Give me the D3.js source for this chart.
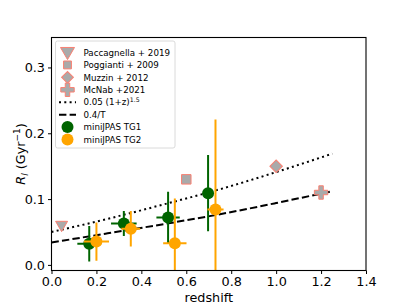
<!DOCTYPE html>
<html>
<head>
<meta charset="utf-8">
<script src="https://cdn.jsdelivr.net/npm/d3@7"></script>
<style>
  body { margin: 0; background: #fff; }
  text { font-family: "DejaVu Sans", sans-serif; }
</style>
</head>
<body>
<div id="chart-area"></div>
<script>
// literature points
const paccZ = [0.045], paccR = [0.061];
const poggZ = [0.6], poggR = [0.13];
const muzzZ = [1.0], muzzR = [0.15];
const mcnabZ = [1.2], mcnabR = [0.11];

// model curves
const curveZ = [0, 0.25, 0.5, 0.75, 1.0, 1.25];
const dottedR = [0.05, 0.070, 0.092, 0.115, 0.141, 0.169];
const dashedR = [0.034, 0.048, 0.062, 0.077, 0.094, 0.112];

// miniJPAS
const tg1Z = [0.168, 0.322, 0.519, 0.697];
const tg1R = [0.032, 0.063, 0.072, 0.109];
const tg1Zerr = [0.053, 0.057, 0.052, 0.02];
const tg1Rerr = [0.027, 0.019, 0.039, 0.058];

const tg2Z = [0.2, 0.353, 0.549, 0.73];
const tg2R = [0.0355, 0.055, 0.033, 0.084];
const tg2Zerr = [0.056, 0.042, 0.052, 0.036];
const tg2Rerr = [0.029, 0.027, 0.068, 0.137];

const xTicks = [0, 0.2, 0.4, 0.6, 0.8, 1.0, 1.2, 1.4];
const yTicks = [0, 0.1, 0.2, 0.3];

const green = '#006400';
const orange = '#FFA500';
const grey = '#AAAAAA';
const salmon = '#FA8072';

const W = 407, H = 305;
const L = 51.5, R = 366, T = 37.5, B = 270.5;

const svg = d3.select("#chart-area").append("svg")
  .attr("width", W)
  .attr("height", H);

const x = d3.scaleLinear().domain([0, 1.4]).range([L, R]);
const y = d3.scaleLinear().domain([-0.0085, 0.3455]).range([B, T]);

svg.append("clipPath").attr("id", "clip")
  .append("rect").attr("x", L).attr("y", T).attr("width", R - L).attr("height", B - T);

const plot = svg.append("g").attr("clip-path", "url(#clip)");

// curves
const line = d3.line().x(d => x(d[0])).y(d => y(d[1])).curve(d3.curveMonotoneX);
plot.append("path")
  .attr("d", line(curveZ.map((z, i) => [z, dottedR[i]])))
  .attr("fill", "none").attr("stroke", "#000").attr("stroke-width", 2)
  .attr("stroke-dasharray", "2,3.3");
plot.append("path")
  .attr("d", line(curveZ.map((z, i) => [z, dashedR[i]])))
  .attr("fill", "none").attr("stroke", "#000").attr("stroke-width", 2)
  .attr("stroke-dasharray", "7.4,3.2");

// literature markers
function refPoints(zs, rs, type, size, rot) {
  zs.forEach((z, i) => {
    plot.append("path")
      .attr("d", d3.symbol().type(type).size(size)())
      .attr("fill", grey).attr("stroke", salmon).attr("stroke-width", 1)
      .attr("transform", `translate(${x(z)},${y(rs[i])})` + (rot ? ` rotate(${rot})` : ""));
  });
}
refPoints(paccZ, paccR, d3.symbolTriangle, 62, 180);
refPoints(poggZ, poggR, d3.symbolSquare, 90, 0);
refPoints(muzzZ, muzzR, d3.symbolSquare, 78, 45);
refPoints(mcnabZ, mcnabR, d3.symbolCross, 100, 0);

// error bars
function errSeries(zs, rs, zerr, rerr, color) {
  const g = plot.append("g");
  zs.forEach((z, i) => {
    g.append("line")
      .attr("x1", x(z)).attr("x2", x(z))
      .attr("y1", y(rs[i] - rerr[i])).attr("y2", y(rs[i] + rerr[i]))
      .attr("stroke", color).attr("stroke-width", 2);
    g.append("line")
      .attr("x1", x(z - zerr[i])).attr("x2", x(z + zerr[i]))
      .attr("y1", y(rs[i])).attr("y2", y(rs[i]))
      .attr("stroke", color).attr("stroke-width", 2);
    g.append("circle")
      .attr("cx", x(z)).attr("cy", y(rs[i])).attr("r", 6)
      .attr("fill", color);
  });
}
errSeries(tg1Z, tg1R, tg1Zerr, tg1Rerr, green);
errSeries(tg2Z, tg2R, tg2Zerr, tg2Rerr, orange);

// axes
const fmt = d3.format(".1f");
svg.append("g").attr("transform", `translate(0,${B})`)
  .call(d3.axisBottom(x).tickValues(xTicks).tickFormat(fmt).tickSizeOuter(0).tickSize(3.5).tickPadding(3))
  .call(g => g.select(".domain").remove())
  .selectAll("text").attr("font-size", 12.8).attr("font-family", "DejaVu Sans").attr("fill", "#000");
svg.append("g").attr("transform", `translate(${L},0)`)
  .call(d3.axisLeft(y).tickValues(yTicks).tickFormat(fmt).tickSizeOuter(0).tickSize(3.5).tickPadding(3))
  .call(g => g.select(".domain").remove())
  .selectAll("text").attr("font-size", 12.8).attr("font-family", "DejaVu Sans").attr("fill", "#000");
svg.selectAll(".tick line").attr("stroke", "#000").attr("stroke-width", 1);

svg.append("rect")
  .attr("x", L).attr("y", T).attr("width", R - L).attr("height", B - T)
  .attr("fill", "none").attr("stroke", "#000").attr("stroke-width", 1.1);

// axis labels
svg.append("text")
  .attr("x", (L + R) / 2).attr("y", 302)
  .attr("text-anchor", "middle").attr("font-size", 12.8)
  .text("redshift");

const yl = svg.append("text")
  .attr("transform", `translate(24.5,${(T + B) / 2}) rotate(-90)`)
  .attr("text-anchor", "middle").attr("font-size", 12.8);
yl.append("tspan").attr("font-style", "italic").text("R");
yl.append("tspan").attr("font-style", "italic").attr("font-size", 9).attr("dy", 3).text("l");
yl.append("tspan").attr("dy", -3).text(" (Gyr");
yl.append("tspan").attr("font-size", 9).attr("dy", -5).text("\u22121");
yl.append("tspan").attr("dy", 5).text(")");

// legend
const leg = svg.append("g");
leg.append("rect")
  .attr("x", 55.5).attr("y", 41).attr("width", 119.5).attr("height", 107)
  .attr("rx", 2).attr("fill", "#fff").attr("fill-opacity", 0.8)
  .attr("stroke", "#d0d0d0").attr("stroke-width", 0.8);

const legLabels = ["Paccagnella + 2019", "Poggianti + 2009", "Muzzin + 2012", "McNab +2021",
  "0.05 (1+z)", "0.4/T", "miniJPAS TG1", "miniJPAS TG2"];
const legY = d3.scaleLinear().domain([0, 7]).range([52.5, 139.5]);
const mx = 67.5;

legLabels.forEach((lab, i) => {
  const t = leg.append("text")
    .attr("x", 83.5).attr("y", legY(i) + 3.2)
    .attr("font-size", 8.7).text(lab);
  if (i === 4) t.append("tspan").attr("font-size", 6.2).attr("dy", -3.5).text("1.5");
});

function legSym(i, type, size, rot) {
  leg.append("path")
    .attr("d", d3.symbol().type(type).size(size)())
    .attr("fill", grey).attr("stroke", salmon).attr("stroke-width", 1)
    .attr("transform", `translate(${mx},${legY(i) + (i === 0 ? -1 : 0)})` + (rot ? ` rotate(${rot})` : ""));
}
legSym(0, d3.symbolTriangle, 85, 180);
legSym(1, d3.symbolSquare, 62, 0);
legSym(2, d3.symbolSquare, 70, 45);
legSym(3, d3.symbolCross, 100, 0);

leg.append("line").attr("x1", 59).attr("x2", 76).attr("y1", legY(4)).attr("y2", legY(4))
  .attr("stroke", "#000").attr("stroke-width", 2).attr("stroke-dasharray", "2,3.3");
leg.append("line").attr("x1", 59).attr("x2", 76).attr("y1", legY(5)).attr("y2", legY(5))
  .attr("stroke", "#000").attr("stroke-width", 2).attr("stroke-dasharray", "7.4,3.2");
leg.append("circle").attr("cx", mx).attr("cy", legY(6)).attr("r", 6).attr("fill", green);
leg.append("circle").attr("cx", mx).attr("cy", legY(7)).attr("r", 6).attr("fill", orange);
</script>
</body>
</html>
